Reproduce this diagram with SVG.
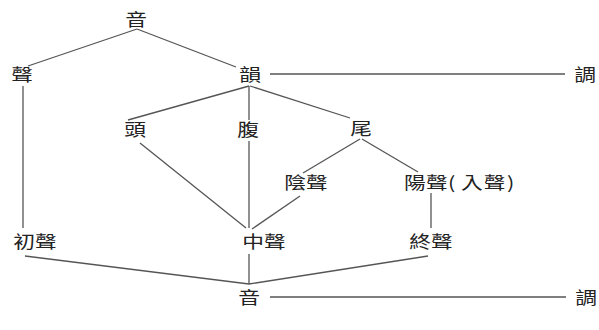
<svg xmlns="http://www.w3.org/2000/svg" width="599" height="330" viewBox="0 0 599 330">
<style>
text{font-family:"Noto Sans CJK TC","Noto Sans CJK SC",sans-serif;font-size:17px;fill:#222;text-anchor:middle}
text.s{text-anchor:start}
.c line{stroke:#555;stroke-width:1.3;fill:none}
</style>
<rect width="599" height="330" fill="#fff"/>
<g class="c" id="connectors">
<line x1="137" y1="29" x2="28" y2="66"/>
<line x1="137" y1="29" x2="236" y2="67"/>
<line x1="23" y1="86" x2="23" y2="228"/>
<line x1="270" y1="74" x2="565" y2="74"/>
<line x1="249" y1="86" x2="128" y2="120"/>
<line x1="249" y1="86" x2="249" y2="120"/>
<line x1="250" y1="86" x2="350" y2="118"/>
<line x1="140" y1="143" x2="246" y2="228"/>
<line x1="249" y1="141" x2="249" y2="228"/>
<line x1="360" y1="139" x2="303" y2="173"/>
<line x1="362" y1="139" x2="418" y2="172"/>
<line x1="300" y1="196" x2="252" y2="229"/>
<line x1="431" y1="193" x2="431" y2="228"/>
<line x1="249" y1="254" x2="249" y2="284"/>
<line x1="25" y1="256" x2="249" y2="284"/>
<line x1="428" y1="256" x2="249" y2="284"/>
<line x1="270" y1="297" x2="566" y2="297"/>
</g>
<g id="n_yin_top"><text transform="translate(136,26) scale(1.28,1)">音</text></g>
<g id="n_sheng"><text transform="translate(22,81) scale(1.28,1)">聲</text></g>
<g id="n_yun"><text transform="translate(250,81) scale(1.28,1)">韻</text></g>
<g id="n_diao_top"><text transform="translate(585,81) scale(1.28,1)">調</text></g>
<g id="n_tou"><text transform="translate(135,136) scale(1.28,1)">頭</text></g>
<g id="n_fu"><text transform="translate(248,136) scale(1.28,1)">腹</text></g>
<g id="n_wei"><text transform="translate(361,135) scale(1.28,1)">尾</text></g>
<g id="n_yinsheng"><text transform="translate(306,189) scale(1.28,1)">陰聲</text></g>
<g id="n_yangsheng"><text class="s" transform="translate(0,189) scale(1.28,1)"><tspan x="315.6">陽</tspan><tspan x="332.8">聲</tspan><tspan x="350">(</tspan><tspan x="360.2">入</tspan><tspan x="378">聲</tspan><tspan x="396">)</tspan></text></g>
<g id="n_chusheng"><text transform="translate(35,248) scale(1.28,1)">初聲</text></g>
<g id="n_zhongsheng"><text transform="translate(264,248) scale(1.28,1)">中聲</text></g>
<g id="n_zhongsheng2"><text transform="translate(431,248) scale(1.28,1)">終聲</text></g>
<g id="n_yin_bottom"><text transform="translate(249,304) scale(1.28,1)">音</text></g>
<g id="n_diao_bottom"><text transform="translate(586,304) scale(1.28,1)">調</text></g>
</svg>
